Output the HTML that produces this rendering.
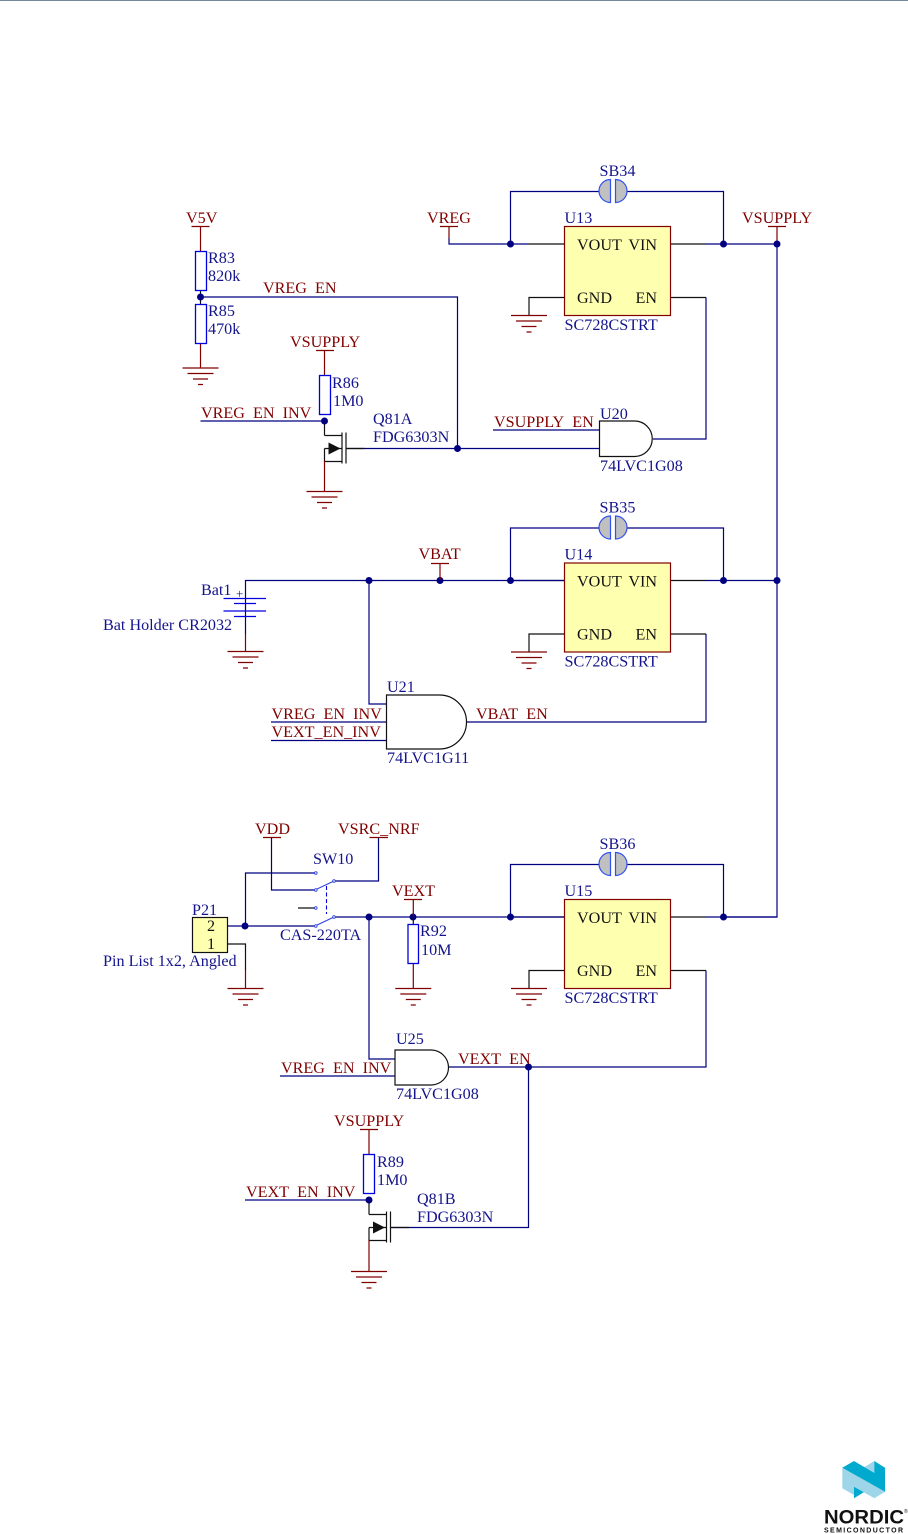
<!DOCTYPE html>
<html><head><meta charset="utf-8"><style>
html,body{margin:0;padding:0;background:#fff}
svg{display:block}
text{font-family:"Liberation Serif",serif;font-size:16.15px}
.b{fill:#14148c}.r{fill:#800000}.k{fill:#111}
.u{fill:none}
.w{fill:none;stroke:#000080;stroke-width:1.2}
.p{fill:none;stroke:#111;stroke-width:1.2}
.m{fill:none;stroke:#800000;stroke-width:1.2}
.res{fill:#fff;stroke:#0000e0;stroke-width:1.3}
</style></head><body>
<svg width="908" height="1534" viewBox="0 0 908 1534" xmlns="http://www.w3.org/2000/svg">
<defs>
<g id="gnd" class="m"><path d="M-18 0H18M-13 5.500H13M-7.500 11H7.500M-2.500 16.500H2.500"/></g>
<circle id="j" r="3.500" fill="#000080"/>
<g id="reg">
<path class="w" d="M510.500 244V191.500H599M627 191.500H723.500V244M511 244H528M706 244H777"/>
<path class="p" d="M528 244H564M670 244H706M564 297.500H529V315M670 297.500H706"/>
<path d="M610.500 179.500A11.500 11.500 0 0 0 610.500 202.500Z" fill="#c0c0c0" stroke="#3050f0" stroke-width="1.200"/>
<path d="M615.500 179.500A11.500 11.500 0 0 1 615.500 202.500Z" fill="#c0c0c0" stroke="#3050f0" stroke-width="1.200"/>
<rect x="564.500" y="226.500" width="106" height="89" fill="#ffffb0" stroke="#800000" stroke-width="1.200"/>
<use href="#gnd" x="529" y="315.500"/>
<use href="#j" x="510.500" y="244"/><use href="#j" x="723.500" y="244"/>
</g>
<g id="mos">
<path class="p" d="M0 -13V-27M0 -13H18M0 0H18M0 13H18M0 0V13M17.500 -16V15M21.500 -16V15M21.500 0H40"/>
<path d="M4 -6L16 0L4 6Z" fill="#111"/>
</g>
</defs>
<rect x="0" y="0" width="908" height="1" fill="#74899a"/>

<use href="#reg"/><use href="#reg" y="336.500"/><use href="#reg" y="673"/>

<!-- wires -->
<path class="w" d="M449 238V244H511"/>
<path class="m" d="M440 226.500H458M449 226.500V238M768 226.500H786M777 226.500V244"/>
<path class="w" d="M777 244V917H723.500"/>
<path class="w" d="M706 297.500V439H653M706 634V722H467M706 970.500V1067H449"/>
<path class="w" d="M200.500 297H457.500V448.500M346 448.500H599.500M493 430H599.500"/>
<path class="w" d="M200.500 421H324.500M245.500 598V580.500H564M369 580.500V704H386.500"/>
<path class="w" d="M271 722H386.500M271 740.500H386.500"/>
<path class="w" d="M334 881H378.500V837.500M271.500 837.500V890H315M245.500 926V873H315M228 926H315M334 917H564"/>
<path class="w" d="M369 917V1059H395M280 1076H395M528.500 1067V1227.500H390"/>
<path class="w" d="M245 1200H369"/>
<path class="p" d="M298 908H315M228 944H245.500V970"/>
<use href="#j" x="777" y="244"/><use href="#j" x="777" y="580.500"/>

<!-- left top resistors -->
<path class="m" d="M191.500 226.500H209.500M200.500 226.500V251M200.500 343V368"/>
<path class="p" d="M200.500 290V304"/>
<rect class="res" x="195.500" y="251.500" width="11" height="39"/>
<rect class="res" x="195.500" y="304.500" width="11" height="39"/>
<use href="#gnd" x="200.500" y="368"/>
<use href="#j" x="200.500" y="297"/>
<path class="m" d="M316 350.500H334M324.500 350.500V375"/>
<rect class="res" x="319.500" y="375.500" width="11" height="39"/>
<use href="#mos" x="324.500" y="448.500"/>
<path class="m" d="M324.500 461V491"/>
<use href="#gnd" x="324.500" y="491.500"/>
<use href="#j" x="324.500" y="421"/>
<use href="#j" x="457.500" y="448.500"/>
<path d="M599.500 421H634.500A17.700 17.700 0 0 1 634.500 456.500H599.500Z" fill="#fff" stroke="#111" stroke-width="1.200"/>

<!-- battery -->
<path class="w" d="M245.500 598V616"/>
<path d="M223.500 598.500H266M234 603.500H256M223.500 611H266M234 616.500H256" stroke="#0000e0" stroke-width="1.200" fill="none"/>
<path class="w" d="M245.500 616.500V634"/>
<path class="m" d="M245.500 634V651"/>
<use href="#gnd" x="245.500" y="651.500"/>
<use href="#j" x="369" y="580.500"/><use href="#j" x="440" y="580.500"/>
<path class="m" d="M431 563.500H449M440 563.500V580"/>
<path d="M386.500 695H439.500A27 27 0 0 1 439.500 749H386.500Z" fill="#fff" stroke="#111" stroke-width="1.200"/>

<!-- switch -->
<path class="m" d="M263 837.500H281M369.500 837.500H388"/>
<path d="M315 890L334 881M315 926L334 917" stroke="#2a3fe0" stroke-width="1" fill="none"/>
<path d="M326.500 886V914" stroke="#0000e0" stroke-width="1.100" stroke-dasharray="4 2.500" fill="none"/>
<g fill="#fff" stroke="#2a3fe0" stroke-width="0.900">
<circle cx="315.800" cy="873" r="1.300"/><circle cx="315.800" cy="890" r="1.300"/><circle cx="315.800" cy="908" r="1.300"/><circle cx="315.800" cy="926" r="1.300"/><circle cx="334" cy="881" r="1.300"/><circle cx="334" cy="917" r="1.300"/>
</g>
<rect x="192.500" y="917.500" width="35" height="35" fill="#ffffb0" stroke="#111" stroke-width="1.200"/>
<path class="m" d="M245.500 970V988"/>
<use href="#gnd" x="245.500" y="988.500"/>
<use href="#j" x="245" y="926"/><use href="#j" x="369" y="917"/><use href="#j" x="413" y="917"/>
<path class="m" d="M404 899.500H422M413.300 899.500V917M413.300 963V988"/>
<path class="p" d="M413.300 917V924"/>
<rect class="res" x="408" y="924.500" width="10.500" height="39"/>
<use href="#gnd" x="413.300" y="988.500"/>

<!-- U25, Q81B -->
<path d="M395 1050H431A17.500 17.500 0 0 1 431 1085H395Z" fill="#fff" stroke="#111" stroke-width="1.200"/>
<use href="#j" x="528.500" y="1067"/>
<path class="m" d="M360 1129.500H378M369 1129.500V1154"/>
<rect class="res" x="363.500" y="1154.500" width="11" height="39"/>
<use href="#mos" x="369" y="1227.500"/>
<path class="m" d="M369 1240V1271"/>
<use href="#gnd" x="369" y="1271.500"/>
<use href="#j" x="369" y="1200"/>

<!-- red labels -->
<g class="r">
<text x="186" y="223">V5V</text>
<text x="427" y="223">VREG</text>
<text x="742" y="223">VSUPPLY</text>
<text x="263" y="293">VREG<tspan class="u">_</tspan>EN</text>
<text x="290" y="347">VSUPPLY</text>
<text x="201" y="418">VREG<tspan class="u">_</tspan>EN<tspan class="u">_</tspan>INV</text>
<text x="494" y="427">VSUPPLY<tspan class="u">_</tspan>EN</text>
<text x="418.500" y="559">VBAT</text>
<text x="271.500" y="719">VREG<tspan class="u">_</tspan>EN<tspan class="u">_</tspan>INV</text>
<text x="271.500" y="737">VEXT_EN_INV</text>
<text x="476" y="719">VBAT<tspan class="u">_</tspan>EN</text>
<text x="255" y="834">VDD</text>
<text x="338" y="834">VSRC_NRF</text>
<text x="392" y="896">VEXT</text>
<text x="281" y="1073">VREG<tspan class="u">_</tspan>EN<tspan class="u">_</tspan>INV</text>
<text x="458" y="1064">VEXT<tspan class="u">_</tspan>EN</text>
<text x="334" y="1126">VSUPPLY</text>
<text x="246" y="1197">VEXT<tspan class="u">_</tspan>EN<tspan class="u">_</tspan>INV</text>
</g>

<!-- blue labels -->
<g class="b">
<text x="208" y="263">R83</text><text x="208" y="281">820k</text>
<text x="208" y="316">R85</text><text x="208" y="334">470k</text>
<text x="332" y="388">R86</text><text x="333" y="406">1M0</text>
<text x="373" y="424">Q81A</text><text x="373" y="442">FDG6303N</text>
<text x="599.500" y="176">SB34</text><text x="564.500" y="223">U13</text><text x="564.500" y="330">SC728CSTRT</text>
<text x="600" y="419">U20</text><text x="600" y="471">74LVC1G08</text>
<text x="599.500" y="512.500">SB35</text><text x="564.500" y="559.500">U14</text><text x="564.500" y="666.500">SC728CSTRT</text>
<text x="201" y="595">Bat1</text><text x="236" y="598" style="font-size:13px">+</text>
<text x="103" y="630">Bat Holder CR2032</text>
<text x="387" y="692">U21</text><text x="387" y="763">74LVC1G11</text>
<text x="599.500" y="849">SB36</text><text x="564.500" y="896">U15</text><text x="564.500" y="1003">SC728CSTRT</text>
<text x="313" y="864">SW10</text><text x="280" y="940">CAS-220TA</text>
<text x="192" y="915">P21</text><text x="103" y="966">Pin List 1x2, Angled</text>
<text x="420" y="936">R92</text><text x="421" y="955">10M</text>
<text x="396" y="1044">U25</text><text x="396" y="1099">74LVC1G08</text>
<text x="377" y="1167">R89</text><text x="377" y="1185">1M0</text>
<text x="417" y="1204">Q81B</text><text x="417" y="1222">FDG6303N</text>
</g>

<!-- black pin labels -->
<g class="k">
<text x="577" y="250">VOUT</text><text x="657" y="250" text-anchor="end">VIN</text>
<text x="577" y="303">GND</text><text x="657" y="303" text-anchor="end">EN</text>
<text x="577" y="586.500">VOUT</text><text x="657" y="586.500" text-anchor="end">VIN</text>
<text x="577" y="639.500">GND</text><text x="657" y="639.500" text-anchor="end">EN</text>
<text x="577" y="923">VOUT</text><text x="657" y="923" text-anchor="end">VIN</text>
<text x="577" y="976">GND</text><text x="657" y="976" text-anchor="end">EN</text>
<text x="211" y="931" text-anchor="middle">2</text>
<text x="211" y="949" text-anchor="middle">1</text>
</g>

<!-- logo -->
<polygon points="842.300,1467.700 842.300,1488.300 854,1495 854,1486.700 874.300,1498.300 885,1491.700 842.300,1467.700" fill="#9fd5e8"/>
<polygon points="863.300,1467.700 874.300,1461 874.300,1474" fill="#9fd5e8"/>
<polygon points="842.300,1467.700 854,1461 874.300,1473 874.300,1461 885,1467.700 885,1491.700" fill="#00a9ce"/>
<polygon points="854,1486.700 854,1498.300 863.800,1492.300" fill="#00a9ce"/>
<text x="824" y="1523.500" style="font-family:'Liberation Sans',sans-serif;font-size:19px;font-weight:bold" fill="#111" textLength="80" lengthAdjust="spacingAndGlyphs">NORDIC</text>
<text x="904" y="1513" style="font-family:'Liberation Sans',sans-serif;font-size:5px" fill="#111">®</text>
<text x="824" y="1532.500" style="font-family:'Liberation Sans',sans-serif;font-size:7px;font-weight:bold" fill="#111" textLength="79" lengthAdjust="spacing">SEMICONDUCTOR</text>
</svg>
</body></html>
